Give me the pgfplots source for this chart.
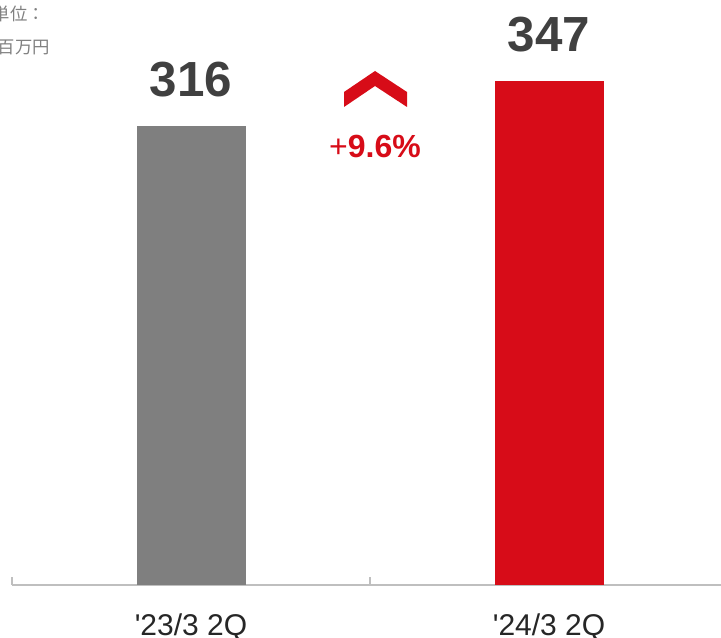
\documentclass[border=0pt]{standalone}
\usepackage{pgfplots}
\pgfplotsset{compat=1.18}
\usepackage{fontspec}
\setmainfont{Liberation Sans}
\newfontfamily\cjk{Noto Sans CJK JP}
\definecolor{bargray}{HTML}{7F7F7F}
\definecolor{barred}{HTML}{D70C18}
\definecolor{numgray}{HTML}{404040}
\definecolor{axisgray}{HTML}{BFBFBF}
\definecolor{unitgray}{HTML}{808080}
\begin{document}
\begin{tikzpicture}[x=0.75pt,y=0.75pt]
\begin{axis}[
  at={(9pt,39.75pt)}, anchor=south west,
  scale only axis, width=537pt, height=438.75pt,
  xmin=-0.5, xmax=1.5, ymin=0, ymax=402.75,
  axis x line=bottom, axis y line=none,
  x axis line style={draw=axisgray, line width=1.1pt, -},
  xtick={0,1}, xticklabels={\textquotesingle23/3 2Q,\textquotesingle24/3 2Q},
  major tick length=0pt,
  xticklabel style={anchor=base, yshift=-38.25pt, font=\fontsize{22.5}{24}\selectfont, text=black!85},
  /pgf/number format/assume math mode=true,
  ybar, bar width=81.75pt, bar shift=0pt,
  nodes near coords,
  every node near coord/.append style={anchor=base, yshift=21.75pt, font=\bfseries\fontsize{37}{40}\selectfont, text=numgray},
  clip=false,
]
\addplot[fill=bargray, draw=none] coordinates {(0,316)};
\addplot[fill=barred, draw=none] coordinates {(1,347)};
\end{axis}
% category separator ticks
\draw[axisgray, line width=0.8pt] (12,53) -- (12,61);
\draw[axisgray, line width=0.8pt] (370,53) -- (370,61);
% chevron
\fill[barred] (344,546) -- (375,567) -- (407,546) -- (407,531) -- (375,552) -- (344,531) -- cycle;
\node[anchor=base, inner sep=0, text=barred, font=\bfseries\fontsize{24}{26}\selectfont] at (375,480) {{\mdseries+}9.6\%};
% unit
\node[anchor=east, inner sep=0, text=unitgray, font=\cjk\fontsize{13}{14}\selectfont] at (45,624) {単位：};
\node[anchor=east, inner sep=0, text=unitgray, font=\cjk\fontsize{13}{14}\selectfont] at (50,591) {百万円};
\pgfresetboundingbox
\path[use as bounding box] (0,0) rectangle (721,638);
\end{tikzpicture}
\end{document}
